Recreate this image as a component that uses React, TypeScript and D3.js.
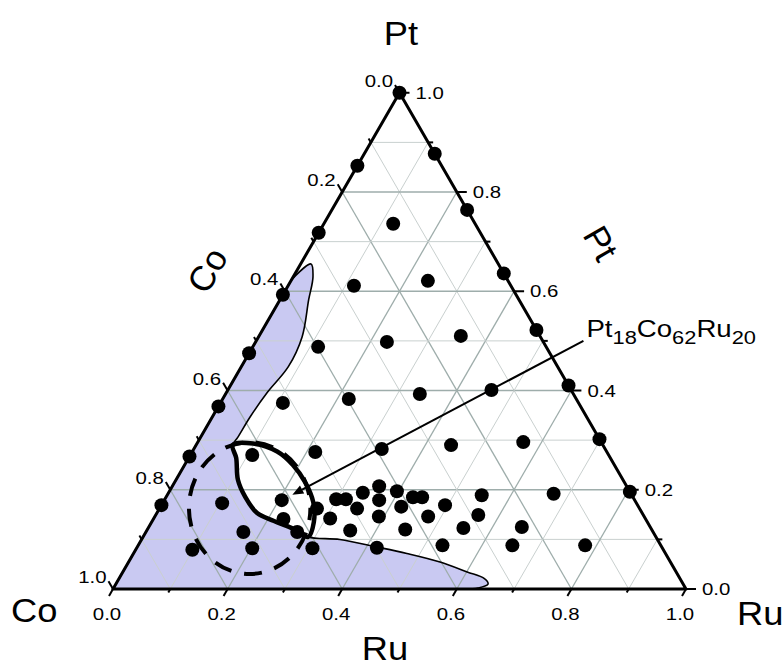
import React from 'react';
import * as d3 from 'd3';

const W = 784;
const H = 669;
const FONT = '"Liberation Sans", Arial, sans-serif';
const SX = 1.2; // the source picture is stretched a little sideways

// compositions are [Pt, Ru] fractions, Co = 1 - Pt - Ru
const edgeCoPt = [1.0, 0.853, 0.718, 0.593, 0.475, 0.368, 0.267, 0.169]; // Ru = 0
const edgeRuPt = [0.877, 0.764, 0.636, 0.522, 0.41, 0.302, 0.196]; // Co = 0
const samples: [number, number][] = [
  [0.736, 0.121], [0.621, 0.239], [0.611, 0.115], [0.488, 0.114], [0.498, 0.229],
  [0.51, 0.352], [0.375, 0.109], [0.383, 0.22], [0.393, 0.339], [0.401, 0.46],
  [0.276, 0.215], [0.282, 0.328], [0.29, 0.445], [0.296, 0.568], [0.27, 0.108],
  [0.173, 0.104], [0.179, 0.205], [0.141, 0.227], [0.115, 0.17], [0.115, 0.264],
  [0.082, 0.202], [0.082, 0.307], [0.079, 0.099], [0.162, 0.275], [0.142, 0.308],
  [0.181, 0.299], [0.181, 0.316], [0.118, 0.355], [0.162, 0.345], [0.194, 0.339],
  [0.207, 0.361], [0.179, 0.375], [0.146, 0.391], [0.197, 0.397], [0.166, 0.42],
  [0.185, 0.431], [0.185, 0.447], [0.12, 0.45], [0.083, 0.419], [0.146, 0.477],
  [0.169, 0.495], [0.088, 0.531], [0.123, 0.55], [0.149, 0.563], [0.189, 0.549],
  [0.125, 0.651], [0.088, 0.653], [0.192, 0.673], [0.088, 0.78],
];

// outline of the shaded region, from the left edge round to the bottom edge
const regionTop: [number, number][] = [
  [0.623, 0], [0.655, 0.018], [0.629, 0.0345], [0.583, 0.05], [0.508, 0.076],
  [0.448, 0.082], [0.395, 0.071], [0.347, 0.066], [0.306, 0.065], [0.29, 0.064],
  [0.264, 0.083], [0.22, 0.108], [0.1855, 0.138], [0.153, 0.175], [0.137, 0.2125],
  [0.119, 0.26], [0.105, 0.288],
  [0.0998, 0.346], [0.0847, 0.418], [0.0716, 0.477], [0.0544, 0.5435], [0.0343, 0.601],
  [0.0212, 0.637], [0.0101, 0.6495], [0.002, 0.636], [0, 0.614],
];

// thick closed loop
const loop: [number, number][] = [
  [0.29, 0.064], [0.293, 0.098], [0.277, 0.148], [0.25, 0.189], [0.216, 0.227],
  [0.175, 0.262], [0.135, 0.283], [0.105, 0.288], [0.119, 0.26], [0.137, 0.2125],
  [0.153, 0.175], [0.1855, 0.138], [0.22, 0.108], [0.264, 0.083],
];

// dashed circle: centre composition and radii (fraction of side)
const ringCenter: [number, number] = [0.163, 0.157];
const ringRadii = [0.106, 0.115];

// annotation
const noteLabel = { u: 0.821, pt: 0.5 };
const noteTarget: [number, number] = [0.19, 0.218];

const ticks = d3.range(0, 11).map(i => i / 10);
const fmt = d3.format('.1f');

const x = d3.scaleLinear().domain([0, 1]).range([113, 686]);
const side = x(1) - x(0);
const y = d3.scaleLinear().domain([0, 1]).range([589, 589 - side * Math.sqrt(3) / 2]);
const proj = (pt: number, ru: number): [number, number] => [x(ru + pt / 2), y(pt)];

const StText = ({ px, py, size, sx = SX, anchor = 'start', children }: any) => (
  <text transform={`translate(${px},${py}) scale(${sx},1)`} fontSize={size} fontFamily={FONT}
    textAnchor={anchor} fill="#000">{children}</text>
);

export default function App() {
  const curve = d3.line<[number, number]>()
    .x(d => proj(d[0], d[1])[0])
    .y(d => proj(d[0], d[1])[1])
    .curve(d3.curveCatmullRom.alpha(0.5));
  const start = proj(0, 0);
  const regionPath = `M${start[0]},${start[1]}L` + (curve(regionTop) || '').slice(1) + 'Z';

  const loopPath = d3.line<[number, number]>()
    .x(d => proj(d[0], d[1])[0])
    .y(d => proj(d[0], d[1])[1])
    .curve(d3.curveCatmullRomClosed.alpha(0.5))(loop) || '';

  const A = proj(1, 0), B = proj(0, 0), C = proj(0, 1);

  const grid: { a: [number, number]; b: [number, number]; major: boolean }[] = [];
  ticks.slice(1, 10).forEach((v, i) => {
    const major = (i + 1) % 2 === 0;
    grid.push({ a: proj(v, 0), b: proj(v, 1 - v), major });
    grid.push({ a: proj(0, v), b: proj(1 - v, v), major });
    grid.push({ a: proj(1 - v, 0), b: proj(0, 1 - v), major });
  });

  const s3 = Math.sqrt(3) / 2;
  // bottom axis (Ru), right axis (Pt), left axis (Co)
  const bottomTicks = ticks.map((v, i) => {
    const p = proj(0, v);
    const len = i % 2 === 0 ? 8 : 4;
    return { v, i, p, e: [p[0] - 0.5 * len, p[1] + s3 * len] };
  });
  const rightTicks = ticks.map((v, i) => {
    const p = proj(v, 1 - v);
    const len = i % 2 === 0 ? 10 : 5;
    return { v, i, p, e: [p[0] + len, p[1]] };
  });
  const leftTicks = ticks.map((v, i) => {
    const p = proj(1 - v, 0);
    const len = i % 2 === 0 ? 9 : 4.5;
    return { v, i, p, e: [p[0] - 0.5 * len, p[1] - s3 * len] };
  });

  const rc = proj(ringCenter[0], ringCenter[1]);

  const la: [number, number] = [x(noteLabel.u), y(noteLabel.pt)];
  const tip = proj(noteTarget[0], noteTarget[1]);
  const dx = tip[0] - la[0], dy = tip[1] - la[1];
  const dl = Math.hypot(dx, dy);
  const ux = dx / dl, uy = dy / dl;
  const hl = 11, hw = 4.5;
  const base = [tip[0] - ux * hl, tip[1] - uy * hl];
  const head = `${tip[0]},${tip[1]} ${base[0] - uy * hw},${base[1] + ux * hw} ${base[0] + uy * hw},${base[1] - ux * hw}`;

  const R = 7;

  return (
    <svg width={W} height={H} style={{ position: 'absolute', left: 0, top: 0, background: '#fff' }}>
      <path d={regionPath} fill="#c9c9f2" stroke="none" />
      <g>
        {grid.map((g, i) => (
          <line key={i} x1={g.a[0]} y1={g.a[1]} x2={g.b[0]} y2={g.b[1]}
            stroke={g.major ? '#9eadab' : '#c9d0cf'} strokeWidth={g.major ? 1.3 : 1} />
        ))}
      </g>
      <path d={regionPath} fill="none" stroke="#000" strokeWidth={1.6} />
      <polygon points={`${A} ${B} ${C}`} fill="none" stroke="#000" strokeWidth={3} strokeLinejoin="round" />

      {bottomTicks.map(t => (
        <g key={'b' + t.i}>
          <line x1={t.p[0]} y1={t.p[1]} x2={t.e[0]} y2={t.e[1]} stroke="#000" strokeWidth={2} />
          {t.i % 2 === 0 && <StText px={t.e[0] - 2} py={620} size={17} anchor="middle">{fmt(t.v)}</StText>}
        </g>
      ))}
      {rightTicks.map(t => (
        <g key={'r' + t.i}>
          <line x1={t.p[0]} y1={t.p[1]} x2={t.e[0]} y2={t.e[1]} stroke="#000" strokeWidth={2} />
          {t.i % 2 === 0 && <StText px={t.e[0] + 6} py={t.p[1] + 6} size={17}>{fmt(t.v)}</StText>}
        </g>
      ))}
      {leftTicks.map(t => (
        <g key={'l' + t.i}>
          <line x1={t.p[0]} y1={t.p[1]} x2={t.e[0]} y2={t.e[1]} stroke="#000" strokeWidth={2} />
          {t.i % 2 === 0 && <StText px={t.e[0] - 2} py={t.e[1] + 2} size={17} anchor="end">{fmt(t.v)}</StText>}
        </g>
      ))}

      <path d={loopPath} fill="none" stroke="#000" strokeWidth={4.5} strokeLinejoin="round" />
      <ellipse cx={rc[0]} cy={rc[1]} rx={ringRadii[0] * side} ry={ringRadii[1] * side}
        fill="none" stroke="#000" strokeWidth={4} strokeDasharray="18 13" strokeDashoffset={6} />

      <line x1={la[0]} y1={la[1]} x2={base[0]} y2={base[1]} stroke="#000" strokeWidth={2} />
      <polygon points={head} fill="#000" />

      {edgeCoPt.map((pt, i) => {
        const p = proj(pt, 0);
        return <circle key={'ec' + i} cx={p[0]} cy={p[1]} r={R} fill="#000" />;
      })}
      {edgeRuPt.map((pt, i) => {
        const p = proj(pt, 1 - pt);
        return <circle key={'er' + i} cx={p[0]} cy={p[1]} r={R} fill="#000" />;
      })}
      {samples.map((d, i) => {
        const p = proj(d[0], d[1]);
        return <circle key={'s' + i} cx={p[0]} cy={p[1]} r={R} fill="#000" />;
      })}

      <text transform={`translate(${la[0] + 3},${la[1] - 4}) scale(1.15,1)`} fontFamily={FONT} fontSize={24}>
        Pt<tspan fontSize={19} dy={7}>18</tspan><tspan dy={-7}>Co</tspan><tspan fontSize={19} dy={7}>62</tspan><tspan dy={-7}>Ru</tspan><tspan fontSize={19} dy={7}>20</tspan>
      </text>

      <StText px={401} py={45} size={33} sx={1.1} anchor="middle">Pt</StText>
      <StText px={11} py={622} size={33} sx={1.1}>Co</StText>
      <StText px={737} py={625} size={33} sx={1.1}>Ru</StText>
      <StText px={385} py={660} size={33} sx={1.1} anchor="middle">Ru</StText>
      <text transform="translate(207,270) rotate(-60)" fontFamily={FONT} fontSize={35}
        textAnchor="middle" dominantBaseline="central">Co</text>
      <text transform="translate(601,243) rotate(60)" fontFamily={FONT} fontSize={35}
        textAnchor="middle" dominantBaseline="central">Pt</text>
    </svg>
  );
}
